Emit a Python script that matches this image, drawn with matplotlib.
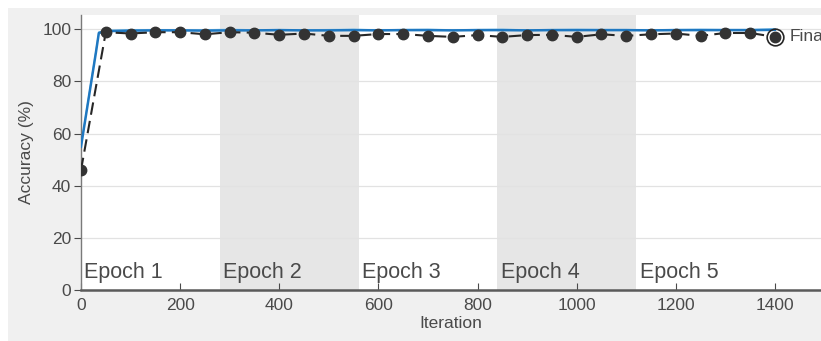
import matplotlib
matplotlib.use("Agg")
import matplotlib.pyplot as plt
from matplotlib.patches import Rectangle

plt.rcParams["font.family"] = ["Liberation Sans", "DejaVu Sans"]

# validation accuracy, one point every 50 iterations
val_iter = [0, 50, 100, 150, 200, 250, 300, 350, 400, 450, 500, 550, 600, 650, 700,
            750, 800, 850, 900, 950, 1000, 1050, 1100, 1150, 1200, 1250, 1300, 1350, 1400]
val_acc = [46.0, 98.9, 98.4, 98.9, 98.9, 98.1, 98.9, 98.7, 97.9, 98.4, 97.5, 97.5, 98.2, 98.2,
           97.5, 97.1, 97.8, 97.1, 97.8, 97.9, 97.1, 98.1, 97.5, 98.1, 98.4, 97.5, 98.6, 98.6, 97.1]

# training accuracy (smoothed + raw)
train_iter = [0, 10, 20, 30, 36, 50, 100, 150, 200, 250, 300, 350, 400, 450, 500, 550, 600,
              650, 700, 750, 800, 850, 900, 950, 1000, 1050, 1100, 1150, 1200, 1250, 1300,
              1350, 1400]
train_smooth = [55.0, 67.0, 79.0, 91.0, 98.6, 99.3, 99.5, 99.6, 99.6, 99.5, 99.6, 99.6, 99.7,
                99.6, 99.6, 99.7, 99.6, 99.7, 99.7, 99.6, 99.7, 99.7, 99.6, 99.7, 99.7, 99.7,
                99.7, 99.6, 99.7, 99.7, 99.7, 99.7, 99.8]
train_raw = [55.0, 67.5, 79.5, 91.5, 99.0, 99.6, 99.8, 99.9, 99.7, 99.8, 100.0, 99.8, 99.9,
             99.8, 99.9, 100.0, 99.8, 99.9, 100.0, 99.8, 99.9, 100.0, 99.8, 99.9, 100.0, 99.9,
             99.9, 99.8, 99.9, 100.0, 99.9, 99.9, 100.2]

epoch_starts = [0, 280, 560, 840, 1120]
epoch_labels = ["Epoch 1", "Epoch 2", "Epoch 3", "Epoch 4", "Epoch 5"]
epoch_len = 280

BG = "#f0f0f0"
TXT = "#4a4a4a"

fig = plt.figure(figsize=(8.21, 3.41), dpi=100, facecolor=BG)
# white screenshot border strips (top / left)
fig.patches.append(Rectangle((0, 1 - 8 / 341), 1, 8 / 341, transform=fig.transFigure,
                             facecolor="white", edgecolor="none", zorder=0))
fig.patches.append(Rectangle((0, 0), 8 / 821, 1, transform=fig.transFigure,
                             facecolor="white", edgecolor="none", zorder=0))

ax = fig.add_axes([81 / 821, 1 - 290 / 341, 1 - 81 / 821, (290 - 15) / 341])
ax.set_facecolor("white")
ax.set_xlim(0, 1493)
ax.set_ylim(0, 105.5)

# shaded epochs (even ones)
for i, s in enumerate(epoch_starts):
    if i % 2 == 1:
        ax.axvspan(s, s + epoch_len, color="#e6e6e6", lw=0, zorder=0)
    ax.text(s + 7, 4.6, epoch_labels[i], fontsize=15.5, color=TXT, ha="left",
            va="baseline", zorder=1)

ax.yaxis.grid(True, color="#e2e2e2", lw=0.9, zorder=0.5)
ax.set_axisbelow(True)

ax.plot(train_iter, train_raw, color="#7fc4ea", lw=1.0, zorder=2)
ax.plot(train_iter, train_smooth, color="#1f78c1", lw=1.8, zorder=3)
ax.plot(val_iter, val_acc, color="#262626", lw=1.5, dashes=(6, 3), marker="o",
        markersize=7.5, markerfacecolor="#333333", markeredgecolor="#333333", zorder=4)
# final validation marker
ax.plot(val_iter[-1:], val_acc[-1:], marker="o", markersize=12, markerfacecolor="none",
        markeredgecolor="#262626", markeredgewidth=1.2, zorder=5, clip_on=False)
ax.text(val_iter[-1] + 30, val_acc[-1], "Final", fontsize=12.5, color=TXT, ha="left",
        va="center", clip_on=False)

ax.set_xticks(range(0, 1401, 200))
ax.set_yticks(range(0, 101, 20))
ax.tick_params(axis="x", direction="in", length=5, colors=TXT, labelsize=12.5, pad=6)
ax.tick_params(axis="y", direction="out", length=5, colors=TXT, labelsize=12.5, pad=2)
ax.set_xlabel("Iteration", fontsize=12.5, color=TXT, labelpad=2)
ax.set_ylabel("Accuracy (%)", fontsize=12.5, color=TXT, labelpad=6)

for side in ["top", "right"]:
    ax.spines[side].set_visible(False)
ax.spines["left"].set_color("#7a7a7a")
ax.spines["left"].set_linewidth(1.0)
ax.spines["bottom"].set_color("#5a5a5a")
ax.spines["bottom"].set_linewidth(1.8)

fig.savefig("out.png", dpi=100, facecolor=BG)
